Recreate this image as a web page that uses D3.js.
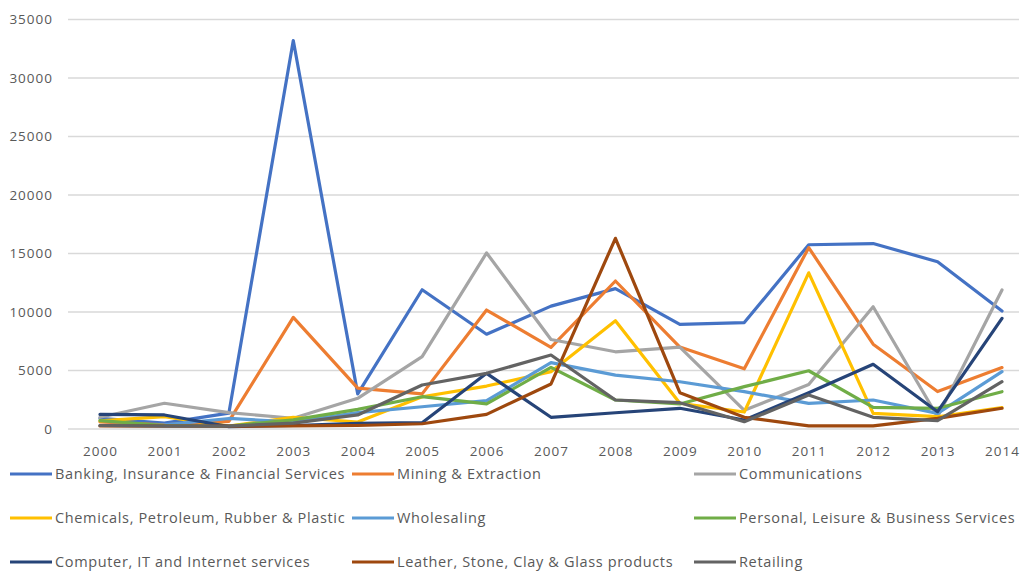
<!DOCTYPE html>
<html>
<head>
<meta charset="utf-8">
<script src="https://cdn.jsdelivr.net/npm/d3@7"></script>
<style>
  html, body { margin: 0; padding: 0; background: #fff; }
  svg { display: block; }
  text { font-family: "Open Sans", "Noto Sans", sans-serif; fill: #595959; }
</style>
</head>
<body>
<svg id="chart" width="1028" height="571"></svg>
<script>
// Annual values per sector, 2000–2014
const years = ["2000","2001","2002","2003","2004","2005","2006","2007","2008","2009","2010","2011","2012","2013","2014"];
const yTicks = [0, 5000, 10000, 15000, 20000, 25000, 30000, 35000];

const banking     = [900, 500, 1350, 33200, 3000, 11900, 8100, 10500, 12000, 8950, 9100, 15750, 15850, 14300, 10080];
const mining      = [600, 350, 650, 9540, 3500, 3000, 10170, 6980, 12650, 7000, 5150, 15500, 7250, 3200, 5250];
const comms       = [1000, 2200, 1400, 920, 2620, 6180, 15050, 7650, 6600, 7000, 1600, 3800, 10450, 1050, 11880];
const chemicals   = [700, 1050, 250, 1000, 600, 2760, 3670, 4900, 9250, 2200, 1450, 13350, 1340, 1050, 1820];
const wholesaling = [300, 350, 900, 600, 1400, 1900, 2420, 5670, 4610, 4040, 3190, 2190, 2480, 1340, 4900];
const personal    = [710, 300, 250, 780, 1680, 2760, 2140, 5270, 2480, 2140, 3620, 4980, 1850, 1770, 3190];
const computer    = [1250, 1200, 200, 300, 490, 540, 4760, 1000, 1390, 1770, 770, 3100, 5530, 1480, 9460];
const leather     = [260, 250, 250, 260, 300, 450, 1250, 3850, 16300, 3100, 1000, 260, 260, 910, 1770];
const retailing   = [300, 250, 250, 500, 1200, 3760, 4760, 6320, 2480, 2250, 620, 2900, 1000, 710, 4040];

const seriesNames = [
  "Banking, Insurance & Financial Services",
  "Mining & Extraction",
  "Communications",
  "Chemicals, Petroleum, Rubber & Plastic",
  "Wholesaling",
  "Personal, Leisure & Business Services",
  "Computer, IT and Internet services",
  "Leather, Stone, Clay & Glass products",
  "Retailing"
];
const seriesValues = [banking, mining, comms, chemicals, wholesaling, personal, computer, leather, retailing];
const seriesColors = ["#4472C4", "#ED7D31", "#A5A5A5", "#FFC000", "#5B9BD5", "#70AD47", "#264478", "#9E480E", "#636363"];

const svg = d3.select("#chart");

const plot = { left: 68, right: 1019, top: 19.5, bottom: 429 };

const x = d3.scalePoint().domain(years).range([100, 1002]);
const y = d3.scaleLinear().domain([0, 35000]).range([plot.bottom, plot.top]);

// Horizontal gridlines
svg.append("g")
  .selectAll("line")
  .data(yTicks)
  .join("line")
  .attr("x1", plot.left)
  .attr("x2", plot.right)
  .attr("y1", d => y(d))
  .attr("y2", d => y(d))
  .attr("stroke", "#d9d9d9")
  .attr("stroke-width", 1.5);

// Y axis labels
const yAxis = d3.axisLeft(y).tickValues(yTicks).tickSize(0).tickPadding(0).tickFormat(d3.format("d"));
const gy = svg.append("g").attr("transform", "translate(53,0)").call(yAxis);
gy.select(".domain").remove();
gy.selectAll("text").attr("font-size", 13.5).attr("fill", "#595959")
  .style("font-family", '"Open Sans", sans-serif')
  .style("letter-spacing", "1px");

// X axis labels
const xAxis = d3.axisBottom(x).tickSize(0).tickPadding(0);
const gx = svg.append("g").attr("transform", "translate(0,446)").call(xAxis);
gx.select(".domain").remove();
gx.selectAll("text").attr("font-size", 13.5).attr("fill", "#595959")
  .style("font-family", '"Open Sans", sans-serif')
  .style("letter-spacing", "1px");

// Series lines
const line = d3.line()
  .x((d, i) => x(years[i]))
  .y(d => y(d));

svg.append("g")
  .selectAll("path")
  .data(seriesValues)
  .join("path")
  .attr("d", d => line(d))
  .attr("fill", "none")
  .attr("stroke", (d, i) => seriesColors[i])
  .attr("stroke-width", 3.2)
  .attr("stroke-linejoin", "round")
  .attr("stroke-linecap", "round");

// Legend: three columns, three rows
const legendCols = [10, 352, 694];
const legendRows = [474, 518, 562];
const legend = svg.append("g")
  .selectAll("g")
  .data(seriesNames)
  .join("g")
  .attr("transform", (d, i) => `translate(${legendCols[i % 3]},${legendRows[Math.floor(i / 3)]})`);

legend.append("line")
  .attr("x1", 0).attr("x2", 42)
  .attr("y1", 0).attr("y2", 0)
  .attr("stroke", (d, i) => seriesColors[i])
  .attr("stroke-width", 3.2);

legend.append("text")
  .attr("x", 45)
  .attr("y", 0)
  .attr("dy", "0.35em")
  .attr("font-size", 14.5)
  .style("letter-spacing", "0.65px")
  .text(d => d);
</script>
</body>
</html>
